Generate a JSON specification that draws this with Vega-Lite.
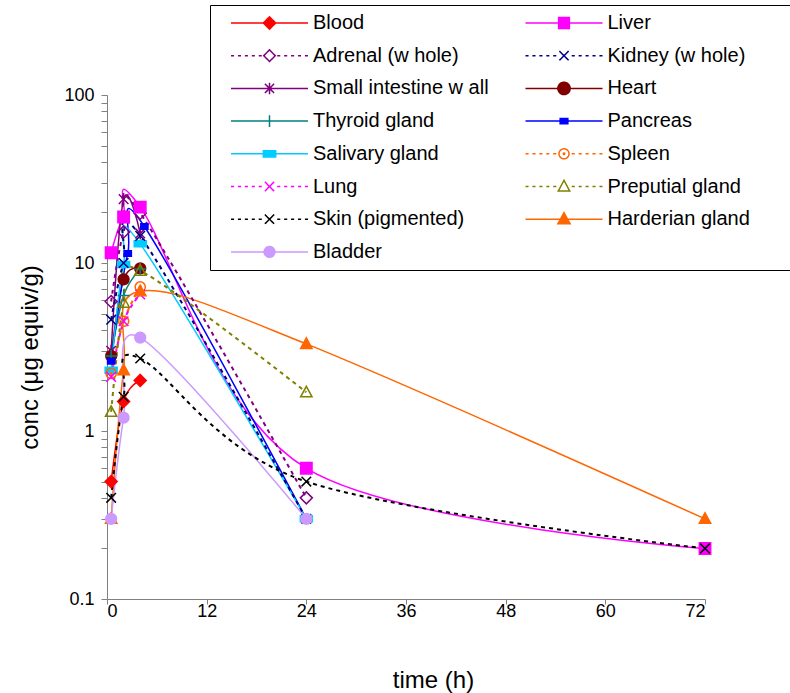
{
  "$schema": "https://vega.github.io/schema/vega-lite/v6.json",
  "width": 598,
  "height": 504,
  "autosize": {"type": "none"},
  "padding": {"left": 107, "top": 95, "right": 85, "bottom": 94},
  "background": "white",
  "config": {"view": {"stroke": null}, "font": "Liberation Sans"},
  "data": {
    "values": [
      {"tissue": "Blood", "t": 0.5, "conc": 0.5},
      {"tissue": "Blood", "t": 2, "conc": 1.5},
      {"tissue": "Blood", "t": 4, "conc": 2.0},
      {"tissue": "Liver", "t": 0.5, "conc": 11.5},
      {"tissue": "Liver", "t": 2, "conc": 18.8},
      {"tissue": "Liver", "t": 4, "conc": 21.5},
      {"tissue": "Liver", "t": 24, "conc": 0.6},
      {"tissue": "Liver", "t": 72, "conc": 0.2},
      {"tissue": "Adrenal (w hole)", "t": 0.5, "conc": 5.9},
      {"tissue": "Adrenal (w hole)", "t": 2, "conc": 15.3},
      {"tissue": "Adrenal (w hole)", "t": 4, "conc": 19.8},
      {"tissue": "Adrenal (w hole)", "t": 24, "conc": 0.4},
      {"tissue": "Kidney (w hole)", "t": 0.5, "conc": 4.6},
      {"tissue": "Kidney (w hole)", "t": 2, "conc": 10},
      {"tissue": "Kidney (w hole)", "t": 4, "conc": 14.5},
      {"tissue": "Kidney (w hole)", "t": 24, "conc": 0.3},
      {"tissue": "Small intestine w all", "t": 0.5, "conc": 3.0},
      {"tissue": "Small intestine w all", "t": 2, "conc": 24},
      {"tissue": "Small intestine w all", "t": 4, "conc": 15},
      {"tissue": "Heart", "t": 0.5, "conc": 2.8},
      {"tissue": "Heart", "t": 2, "conc": 8.0},
      {"tissue": "Heart", "t": 4, "conc": 9.3},
      {"tissue": "Thyroid gland", "t": 0.5, "conc": 2.8},
      {"tissue": "Thyroid gland", "t": 2, "conc": 6.4},
      {"tissue": "Thyroid gland", "t": 4, "conc": 9.2},
      {"tissue": "Pancreas", "t": 0.5, "conc": 2.6},
      {"tissue": "Pancreas", "t": 2.5, "conc": 11.4},
      {"tissue": "Pancreas", "t": 4.5, "conc": 16.5},
      {"tissue": "Pancreas", "t": 24, "conc": 0.3},
      {"tissue": "Salivary gland", "t": 0.5, "conc": 2.3},
      {"tissue": "Salivary gland", "t": 2, "conc": 9.8},
      {"tissue": "Salivary gland", "t": 4, "conc": 13},
      {"tissue": "Salivary gland", "t": 24, "conc": 0.3},
      {"tissue": "Spleen", "t": 0.5, "conc": 2.2},
      {"tissue": "Spleen", "t": 2, "conc": 4.5},
      {"tissue": "Spleen", "t": 4, "conc": 7.2},
      {"tissue": "Lung", "t": 0.5, "conc": 2.1},
      {"tissue": "Lung", "t": 2, "conc": 4.5},
      {"tissue": "Lung", "t": 4, "conc": 6.5},
      {"tissue": "Preputial gland", "t": 0.5, "conc": 1.3},
      {"tissue": "Preputial gland", "t": 2, "conc": 5.8},
      {"tissue": "Preputial gland", "t": 4, "conc": 9.0},
      {"tissue": "Preputial gland", "t": 24, "conc": 1.7},
      {"tissue": "Skin (pigmented)", "t": 0.5, "conc": 0.4},
      {"tissue": "Skin (pigmented)", "t": 2, "conc": 1.6},
      {"tissue": "Skin (pigmented)", "t": 4, "conc": 2.7},
      {"tissue": "Skin (pigmented)", "t": 24, "conc": 0.5},
      {"tissue": "Skin (pigmented)", "t": 72, "conc": 0.2},
      {"tissue": "Harderian gland", "t": 0.5, "conc": 0.3},
      {"tissue": "Harderian gland", "t": 2, "conc": 2.3},
      {"tissue": "Harderian gland", "t": 4, "conc": 6.8},
      {"tissue": "Harderian gland", "t": 24, "conc": 3.3},
      {"tissue": "Harderian gland", "t": 72, "conc": 0.3},
      {"tissue": "Bladder", "t": 0.5, "conc": 0.3},
      {"tissue": "Bladder", "t": 2, "conc": 1.2},
      {"tissue": "Bladder", "t": 4, "conc": 3.6},
      {"tissue": "Bladder", "t": 24, "conc": 0.3}
    ]
  },
  "encoding": {
    "x": {
      "field": "t", "type": "quantitative",
      "scale": {"domain": [0, 72], "nice": false, "zero": false},
      "axis": {
        "values": [0, 12, 24, 36, 48, 60, 72],
        "title": "time (h)", "grid": false,
        "domainColor": "#808080", "tickColor": "#808080", "tickSize": 5,
        "labelFont": "Liberation Sans", "labelFontSize": 18, "labelColor": "black", "labelPadding": -2,
        "titleFont": "Liberation Sans", "titleFontSize": 24, "titleFontWeight": "normal", "titleColor": "black",
        "titleX": 326, "titleY": 81, "titleBaseline": "middle"
      }
    },
    "y": {
      "field": "conc", "type": "quantitative",
      "scale": {"type": "log", "domain": [0.1, 100], "nice": false},
      "axis": {
        "values": [0.1, 0.2, 0.3, 0.4, 0.5, 0.6, 0.7, 0.8, 0.9, 1, 2, 3, 4, 5, 6, 7, 8, 9, 10, 20, 30, 40, 50, 60, 70, 80, 90, 100],
        "labelExpr": "datum.value == 0.1 ? '0.1' : datum.value == 1 ? '1' : datum.value == 10 ? '10' : datum.value == 100 ? '100' : ''",
        "title": "conc (μg equiv/g)", "grid": false,
        "domainColor": "#808080", "tickColor": "#808080", "tickSize": 6,
        "labelFont": "Liberation Sans", "labelFontSize": 18, "labelColor": "black", "labelPadding": 7,
        "titleFont": "Liberation Sans", "titleFontSize": 24, "titleFontWeight": "normal", "titleColor": "black",
        "titleX": -77, "titleY": 262, "titleBaseline": "middle"
      }
    }
  },
  "layer": [
    {
      "transform": [{"filter": {"not": {"field": "tissue", "oneOf": ["Adrenal (w hole)", "Kidney (w hole)", "Spleen", "Lung", "Preputial gland", "Skin (pigmented)"]}}}],
      "mark": {"type": "line", "interpolate": "cardinal", "strokeWidth": 1.5},
      "encoding": {
        "stroke": {
          "field": "tissue", "type": "nominal",
          "scale": {
            "domain": ["Blood", "Liver", "Adrenal (w hole)", "Kidney (w hole)", "Small intestine w all", "Heart", "Thyroid gland", "Pancreas", "Salivary gland", "Spleen", "Lung", "Preputial gland", "Skin (pigmented)", "Harderian gland", "Bladder"],
            "range": ["#FF0000", "#FF00FF", "#800080", "#000080", "#800080", "#800000", "#008080", "#0000FF", "#00CCFF", "#FF6600", "#FF00FF", "#808000", "#000000", "#FF6600", "#CC99FF"]
          },
          "legend": {
            "orient": "none", "legendX": 103, "legendY": -90,
            "direction": "horizontal", "columns": 2, "title": null,
            "strokeColor": "black", "fillColor": "white", "padding": 6,
            "clipHeight": 24, "rowPadding": 8.7, "columnPadding": 9.5,
            "symbolSize": 5929, "symbolStrokeWidth": 1.5, "symbolOffset": 14, "labelOffset": 4,
            "labelFont": "Liberation Sans", "labelFontSize": 20, "labelColor": "black", "labelLimit": 300,
            "encode": {
              "entries": {"update": {"width": {"value": 285}, "noBound": {"value": false}}},
              "symbols": {
                "update": {
                  "shape": {"signal": "['M-1,0H1M0,-0.16L0.16,0L0,0.16L-0.16,0Z','M-1,0H1M-0.14,-0.14H0.14V0.14H-0.14Z','M-1,0H-0.92M-0.82,0H-0.74M-0.64,0H-0.56M-0.46,0H-0.38M-0.28,0H-0.2M0.2,0H0.28M0.38,0H0.46M0.56,0H0.64M0.74,0H0.82M0.92,0H1M0,-0.15L0.15,0L0,0.15L-0.15,0Z','M-1,0H-0.92M-0.82,0H-0.74M-0.64,0H-0.56M-0.46,0H-0.38M-0.28,0H-0.2M0.2,0H0.28M0.38,0H0.46M0.56,0H0.64M0.74,0H0.82M0.92,0H1M-0.12,-0.12L0.12,0.12M-0.12,0.12L0.12,-0.12','M-1,0H1M-0.12,-0.12L0.12,0.12M-0.12,0.12L0.12,-0.12M0,-0.15V0.15','M-1,0H1M-0.16,0A0.16,0.16,0,1,1,0.16,0A0.16,0.16,0,1,1,-0.16,0Z','M-1,0H1M0,-0.15V0.15','M-1,0H1M-0.1,-0.07H0.1V0.07H-0.1Z','M-1,0H1M-0.16,-0.08H0.16V0.08H-0.16Z','M-1,0H-0.92M-0.82,0H-0.74M-0.64,0H-0.56M-0.46,0H-0.38M-0.28,0H-0.2M0.2,0H0.28M0.38,0H0.46M0.56,0H0.64M0.74,0H0.82M0.92,0H1M-0.13,0A0.13,0.13,0,1,1,0.13,0A0.13,0.13,0,1,1,-0.13,0ZM-0.02,0A0.02,0.02,0,1,1,0.02,0A0.02,0.02,0,1,1,-0.02,0Z','M-1,0H-0.92M-0.82,0H-0.74M-0.64,0H-0.56M-0.46,0H-0.38M-0.28,0H-0.2M0.2,0H0.28M0.38,0H0.46M0.56,0H0.64M0.74,0H0.82M0.92,0H1M-0.12,-0.12L0.12,0.12M-0.12,0.12L0.12,-0.12','M-1,0H-0.92M-0.82,0H-0.74M-0.64,0H-0.56M-0.46,0H-0.38M-0.28,0H-0.2M0.2,0H0.28M0.38,0H0.46M0.56,0H0.64M0.74,0H0.82M0.92,0H1M0,-0.16L0.15,0.12H-0.15Z','M-1,0H-0.92M-0.82,0H-0.74M-0.64,0H-0.56M-0.46,0H-0.38M-0.28,0H-0.2M0.2,0H0.28M0.38,0H0.46M0.56,0H0.64M0.74,0H0.82M0.92,0H1M-0.12,-0.12L0.12,0.12M-0.12,0.12L0.12,-0.12','M-1,0H1M0,-0.17L0.16,0.12H-0.16Z','M-1,0H1M-0.14,0A0.14,0.14,0,1,1,0.14,0A0.14,0.14,0,1,1,-0.14,0Z'][indexof(['Blood','Liver','Adrenal (w hole)','Kidney (w hole)','Small intestine w all','Heart','Thyroid gland','Pancreas','Salivary gland','Spleen','Lung','Preputial gland','Skin (pigmented)','Harderian gland','Bladder'], datum.value)]"},
                  "fill": {"signal": "['#FF0000','#FF00FF','transparent','transparent','transparent','#800000','transparent','#0000FF','#00CCFF','transparent','transparent','transparent','transparent','#FF6600','#CC99FF'][indexof(['Blood','Liver','Adrenal (w hole)','Kidney (w hole)','Small intestine w all','Heart','Thyroid gland','Pancreas','Salivary gland','Spleen','Lung','Preputial gland','Skin (pigmented)','Harderian gland','Bladder'], datum.value)]"},
                  "strokeDash": {"value": [1, 0]},
                  "opacity": {"value": 1}
                }
              }
            }
          }
        }
      }
    },
    {
      "transform": [{"filter": {"field": "tissue", "oneOf": ["Adrenal (w hole)", "Kidney (w hole)", "Spleen", "Lung", "Preputial gland", "Skin (pigmented)"]}}],
      "mark": {"type": "line", "interpolate": "cardinal", "strokeWidth": 2, "strokeDash": [4, 4]},
      "encoding": {"stroke": {"field": "tissue", "type": "nominal", "legend": null}}
    },
    {
      "transform": [{"filter": {"field": "tissue", "oneOf": ["Blood", "Adrenal (w hole)"]}}],
      "mark": {"type": "point", "shape": "M0,-1L1,0L0,1L-1,0Z", "size": 144, "strokeWidth": 1.5, "opacity": 1},
      "encoding": {
        "stroke": {"field": "tissue", "type": "nominal", "legend": null},
        "fill": {
          "field": "tissue", "type": "nominal", "legend": null,
          "scale": {
            "domain": ["Blood", "Liver", "Adrenal (w hole)", "Kidney (w hole)", "Small intestine w all", "Heart", "Thyroid gland", "Pancreas", "Salivary gland", "Spleen", "Lung", "Preputial gland", "Skin (pigmented)", "Harderian gland", "Bladder"],
            "range": ["#FF0000", "#FF00FF", "transparent", "transparent", "transparent", "#800000", "transparent", "#0000FF", "#00CCFF", "transparent", "transparent", "transparent", "transparent", "#FF6600", "#CC99FF"]
          }
        }
      }
    },
    {
      "transform": [{"filter": {"field": "tissue", "oneOf": ["Liver"]}}],
      "mark": {"type": "point", "shape": "M-0.95,-0.95H0.95V0.95H-0.95Z", "size": 144, "strokeWidth": 1.5, "opacity": 1},
      "encoding": {"stroke": {"field": "tissue", "type": "nominal", "legend": null}, "fill": {"field": "tissue", "type": "nominal", "legend": null}}
    },
    {
      "transform": [{"filter": {"field": "tissue", "oneOf": ["Small intestine w all"]}}],
      "mark": {"type": "point", "shape": "M-0.8,-0.8L0.8,0.8M-0.8,0.8L0.8,-0.8M0,-1V1", "size": 144, "strokeWidth": 1.5, "opacity": 1},
      "encoding": {"stroke": {"field": "tissue", "type": "nominal", "legend": null}, "fill": {"field": "tissue", "type": "nominal", "legend": null}}
    },
    {
      "transform": [{"filter": {"field": "tissue", "oneOf": ["Heart"]}}],
      "mark": {"type": "point", "shape": "M-0.9,0A0.9,0.9,0,1,1,0.9,0A0.9,0.9,0,1,1,-0.9,0Z", "size": 144, "strokeWidth": 1.5, "opacity": 1},
      "encoding": {"stroke": {"field": "tissue", "type": "nominal", "legend": null}, "fill": {"field": "tissue", "type": "nominal", "legend": null}}
    },
    {
      "transform": [{"filter": {"field": "tissue", "oneOf": ["Thyroid gland"]}}],
      "mark": {"type": "point", "shape": "M-1,0H1M0,-1V1", "size": 144, "strokeWidth": 1.5, "opacity": 1},
      "encoding": {"stroke": {"field": "tissue", "type": "nominal", "legend": null}, "fill": {"field": "tissue", "type": "nominal", "legend": null}}
    },
    {
      "transform": [{"filter": {"field": "tissue", "oneOf": ["Pancreas"]}}],
      "mark": {"type": "point", "shape": "M-0.6,-0.45H0.6V0.45H-0.6Z", "size": 144, "strokeWidth": 1.5, "opacity": 1},
      "encoding": {"stroke": {"field": "tissue", "type": "nominal", "legend": null}, "fill": {"field": "tissue", "type": "nominal", "legend": null}}
    },
    {
      "transform": [{"filter": {"field": "tissue", "oneOf": ["Salivary gland"]}}],
      "mark": {"type": "point", "shape": "M-1,-0.5H1V0.5H-1Z", "size": 144, "strokeWidth": 1.5, "opacity": 1},
      "encoding": {"stroke": {"field": "tissue", "type": "nominal", "legend": null}, "fill": {"field": "tissue", "type": "nominal", "legend": null}}
    },
    {
      "transform": [{"filter": {"field": "tissue", "oneOf": ["Spleen"]}}],
      "mark": {"type": "point", "shape": "M-0.85,0A0.85,0.85,0,1,1,0.85,0A0.85,0.85,0,1,1,-0.85,0ZM-0.15,0A0.15,0.15,0,1,1,0.15,0A0.15,0.15,0,1,1,-0.15,0Z", "size": 144, "strokeWidth": 1.5, "opacity": 1},
      "encoding": {"stroke": {"field": "tissue", "type": "nominal", "legend": null}, "fill": {"field": "tissue", "type": "nominal", "legend": null}}
    },
    {
      "transform": [{"filter": {"field": "tissue", "oneOf": ["Kidney (w hole)", "Lung", "Skin (pigmented)"]}}],
      "mark": {"type": "point", "shape": "M-0.8,-0.8L0.8,0.8M-0.8,0.8L0.8,-0.8", "size": 144, "strokeWidth": 1.5, "opacity": 1},
      "encoding": {"stroke": {"field": "tissue", "type": "nominal", "legend": null}, "fill": {"field": "tissue", "type": "nominal", "legend": null}}
    },
    {
      "transform": [{"filter": {"field": "tissue", "oneOf": ["Preputial gland", "Harderian gland"]}}],
      "mark": {"type": "point", "shape": "M0,-1L0.95,0.75H-0.95Z", "size": 144, "strokeWidth": 1.5, "opacity": 1},
      "encoding": {"stroke": {"field": "tissue", "type": "nominal", "legend": null}, "fill": {"field": "tissue", "type": "nominal", "legend": null}}
    },
    {
      "transform": [{"filter": {"field": "tissue", "oneOf": ["Bladder"]}}],
      "mark": {"type": "point", "shape": "M-0.9,0A0.9,0.9,0,1,1,0.9,0A0.9,0.9,0,1,1,-0.9,0Z", "size": 144, "strokeWidth": 1.5, "opacity": 1},
      "encoding": {"stroke": {"field": "tissue", "type": "nominal", "legend": null}, "fill": {"field": "tissue", "type": "nominal", "legend": null}}
    }
  ]
}
